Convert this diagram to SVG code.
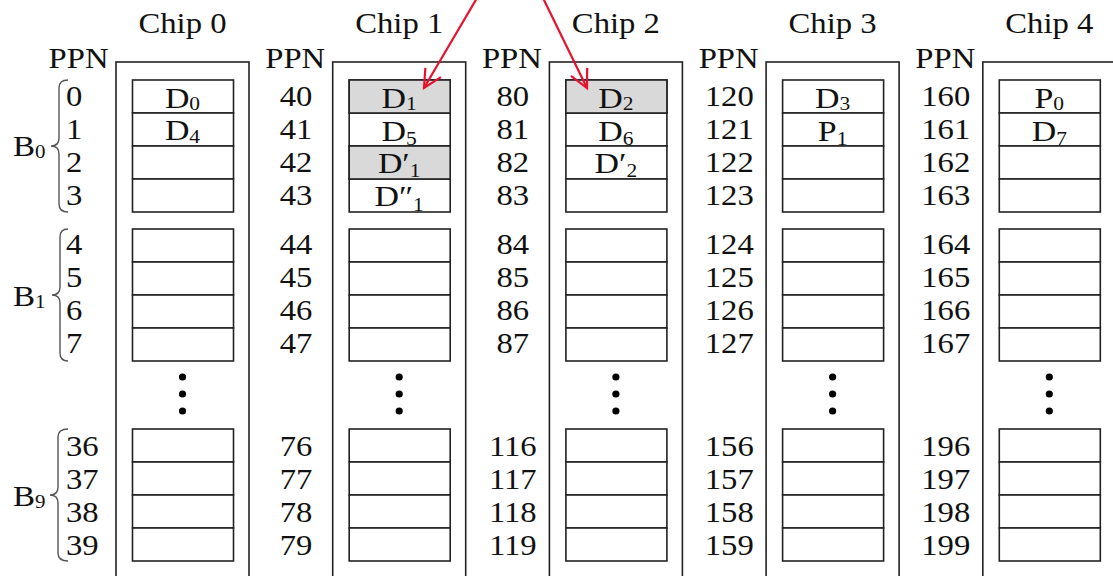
<svg xmlns="http://www.w3.org/2000/svg" width="1113" height="576" viewBox="0 0 1113 576">
<style>
text{font-family:"Liberation Serif","Times New Roman",serif;fill:#111;font-size:30px;}
.m{text-anchor:middle;}
.s{text-anchor:start;}
.sub{font-size:19px;}
.outer{fill:#fff;stroke:#222;stroke-width:1.6;}
.c{fill:#fff;stroke:#222;stroke-width:1.6;}
.g{fill:#d9d9d9;stroke:#222;stroke-width:1.6;}
.brace{fill:none;stroke:#555;stroke-width:1.4;}
.dot{fill:#000;}
.arrow{fill:none;stroke:#e8112d;stroke-width:2.2;}
</style>
<defs>
<marker id="ah" markerUnits="userSpaceOnUse" viewBox="-22 -12 26 24" markerWidth="26" markerHeight="24" refX="0" refY="0" orient="auto" overflow="visible">
<path d="M-18,-9 L0,0 L-18,9" fill="none" stroke="#e8112d" stroke-width="2.2"/>
</marker>
<g id="blk">
<rect class="c" x="0" y="0" width="101" height="33"/>
<rect class="c" x="0" y="33" width="101" height="33"/>
<rect class="c" x="0" y="66" width="101" height="33"/>
<rect class="c" x="0" y="99" width="101" height="33"/>
</g>
<g id="dots">
<circle class="dot" cx="0" cy="377" r="3.6"/>
<circle class="dot" cx="0" cy="394" r="3.6"/>
<circle class="dot" cx="0" cy="411" r="3.6"/>
</g>
</defs>

<g id="blocks-labels">
<path class="brace" d="M68,80 Q59,80 59,88 L59,138 Q59,146 51,146 Q59,146 59,154 L59,204 Q59,212 68,212"/>
<path class="brace" d="M68,229 Q60,229 60,237 L60,287 Q60,295 52,295 Q60,295 60,303 L60,353 Q60,361 68,361"/>
<path class="brace" d="M68,429 Q58,429 58,437 L58,487 Q58,495 50,495 Q58,495 58,503 L58,553 Q58,561 68,561"/>
<g transform="translate(13,0) scale(1.1,1)">
<text class="s" x="0" y="156">B<tspan class="sub" dy="2">0</tspan></text>
<text class="s" x="0" y="306">B<tspan class="sub" dy="2">1</tspan></text>
<text class="s" x="0" y="506">B<tspan class="sub" dy="2">9</tspan></text>
</g>
</g>

<g id="chip0">
<rect class="outer" x="116" y="62" width="133" height="540"/>
<use href="#blk" x="132.5" y="80"/>
<use href="#blk" x="132.5" y="229"/>
<use href="#blk" x="132.5" y="429"/>
<use href="#dots" x="182.5" y="0"/>
<g transform="translate(182.5,0) scale(1.09,1)">
<text class="m" x="0" y="33">Chip 0</text>
<text class="m" x="-95.4" y="68">PPN</text>
<text class="s" x="-106.9" y="106.5">0</text>
<text class="s" x="-106.9" y="139.5">1</text>
<text class="s" x="-106.9" y="172.5">2</text>
<text class="s" x="-106.9" y="205.5">3</text>
<text class="s" x="-106.9" y="254">4</text>
<text class="s" x="-106.9" y="287">5</text>
<text class="s" x="-106.9" y="320">6</text>
<text class="s" x="-106.9" y="353">7</text>
<text class="s" x="-106.9" y="456.5">36</text>
<text class="s" x="-106.9" y="489.5">37</text>
<text class="s" x="-106.9" y="522.5">38</text>
<text class="s" x="-106.9" y="555.5">39</text>
</g>
<g transform="translate(182.5,0) scale(1.13,1)">
<text class="m" x="0" y="108">D<tspan class="sub" dy="2">0</tspan></text>
<text class="m" x="0" y="140.5">D<tspan class="sub" dy="3">4</tspan></text>
</g>
</g>

<g id="chip1">
<rect class="outer" x="332.7" y="62" width="133" height="540"/>
<use href="#blk" x="349.2" y="80"/>
<rect class="g" x="349.2" y="80" width="101" height="33"/>
<rect class="g" x="349.2" y="146" width="101" height="33"/>
<use href="#blk" x="349.2" y="229"/>
<use href="#blk" x="349.2" y="429"/>
<use href="#dots" x="399.2" y="0"/>
<g transform="translate(399.2,0) scale(1.09,1)">
<text class="m" x="0" y="33">Chip 1</text>
<text class="m" x="-95.4" y="68">PPN</text>
<text class="m" x="-94.6" y="106.5">40</text>
<text class="m" x="-94.6" y="139.5">41</text>
<text class="m" x="-94.6" y="172.5">42</text>
<text class="m" x="-94.6" y="205.5">43</text>
<text class="m" x="-94.6" y="254">44</text>
<text class="m" x="-94.6" y="287">45</text>
<text class="m" x="-94.6" y="320">46</text>
<text class="m" x="-94.6" y="353">47</text>
<text class="m" x="-94.6" y="456.5">76</text>
<text class="m" x="-94.6" y="489.5">77</text>
<text class="m" x="-94.6" y="522.5">78</text>
<text class="m" x="-94.6" y="555.5">79</text>
</g>
<g transform="translate(399.2,0) scale(1.13,1)">
<text class="m" x="0" y="108">D<tspan class="sub" dy="2">1</tspan></text>
<text class="m" x="0" y="141">D<tspan class="sub" dy="4">5</tspan></text>
<text class="m" x="0" y="173">D′<tspan class="sub" dy="4">1</tspan></text>
<text class="m" x="0" y="206">D″<tspan class="sub" dy="5">1</tspan></text>
</g>
</g>

<g id="chip2">
<rect class="outer" x="549.4" y="62" width="133" height="540"/>
<use href="#blk" x="565.9" y="80"/>
<rect class="g" x="565.9" y="80" width="101" height="33"/>
<use href="#blk" x="565.9" y="229"/>
<use href="#blk" x="565.9" y="429"/>
<use href="#dots" x="615.9" y="0"/>
<g transform="translate(615.9,0) scale(1.09,1)">
<text class="m" x="0" y="33">Chip 2</text>
<text class="m" x="-95.4" y="68">PPN</text>
<text class="m" x="-94.6" y="106.5">80</text>
<text class="m" x="-94.6" y="139.5">81</text>
<text class="m" x="-94.6" y="172.5">82</text>
<text class="m" x="-94.6" y="205.5">83</text>
<text class="m" x="-94.6" y="254">84</text>
<text class="m" x="-94.6" y="287">85</text>
<text class="m" x="-94.6" y="320">86</text>
<text class="m" x="-94.6" y="353">87</text>
<text class="m" x="-94.6" y="456.5">116</text>
<text class="m" x="-94.6" y="489.5">117</text>
<text class="m" x="-94.6" y="522.5">118</text>
<text class="m" x="-94.6" y="555.5">119</text>
</g>
<g transform="translate(615.9,0) scale(1.13,1)">
<text class="m" x="0" y="108">D<tspan class="sub" dy="2">2</tspan></text>
<text class="m" x="0" y="141">D<tspan class="sub" dy="4">6</tspan></text>
<text class="m" x="0" y="173">D′<tspan class="sub" dy="4">2</tspan></text>
</g>
</g>

<g id="chip3">
<rect class="outer" x="766.1" y="62" width="133" height="540"/>
<use href="#blk" x="782.6" y="80"/>
<use href="#blk" x="782.6" y="229"/>
<use href="#blk" x="782.6" y="429"/>
<use href="#dots" x="832.6" y="0"/>
<g transform="translate(832.6,0) scale(1.09,1)">
<text class="m" x="0" y="33">Chip 3</text>
<text class="m" x="-95.4" y="68">PPN</text>
<text class="m" x="-94.8" y="106.5">120</text>
<text class="m" x="-94.8" y="139.5">121</text>
<text class="m" x="-94.8" y="172.5">122</text>
<text class="m" x="-94.8" y="205.5">123</text>
<text class="m" x="-94.8" y="254">124</text>
<text class="m" x="-94.8" y="287">125</text>
<text class="m" x="-94.8" y="320">126</text>
<text class="m" x="-94.8" y="353">127</text>
<text class="m" x="-94.8" y="456.5">156</text>
<text class="m" x="-94.8" y="489.5">157</text>
<text class="m" x="-94.8" y="522.5">158</text>
<text class="m" x="-94.8" y="555.5">159</text>
</g>
<g transform="translate(832.6,0) scale(1.13,1)">
<text class="m" x="0" y="108">D<tspan class="sub" dy="2">3</tspan></text>
<text class="m" x="0" y="141">P<tspan class="sub" dy="4">1</tspan></text>
</g>
</g>

<g id="chip4">
<rect class="outer" x="982.8" y="62" width="133" height="540"/>
<use href="#blk" x="999.3" y="80"/>
<use href="#blk" x="999.3" y="229"/>
<use href="#blk" x="999.3" y="429"/>
<use href="#dots" x="1049.3" y="0"/>
<g transform="translate(1049.3,0) scale(1.09,1)">
<text class="m" x="0" y="33">Chip 4</text>
<text class="m" x="-95.4" y="68">PPN</text>
<text class="m" x="-95" y="106.5">160</text>
<text class="m" x="-95" y="139.5">161</text>
<text class="m" x="-95" y="172.5">162</text>
<text class="m" x="-95" y="205.5">163</text>
<text class="m" x="-95" y="254">164</text>
<text class="m" x="-95" y="287">165</text>
<text class="m" x="-95" y="320">166</text>
<text class="m" x="-95" y="353">167</text>
<text class="m" x="-95" y="456.5">196</text>
<text class="m" x="-95" y="489.5">197</text>
<text class="m" x="-95" y="522.5">198</text>
<text class="m" x="-95" y="555.5">199</text>
</g>
<g transform="translate(1049.3,0) scale(1.13,1)">
<text class="m" x="0" y="108">P<tspan class="sub" dy="2">0</tspan></text>
<text class="m" x="0" y="141">D<tspan class="sub" dy="4">7</tspan></text>
</g>
</g>

<g id="connectors">
<path class="arrow" d="M477,-2 L424,88" marker-end="url(#ah)"/>
<path class="arrow" d="M543,-2 L587,88" marker-end="url(#ah)"/>
</g>
</svg>
